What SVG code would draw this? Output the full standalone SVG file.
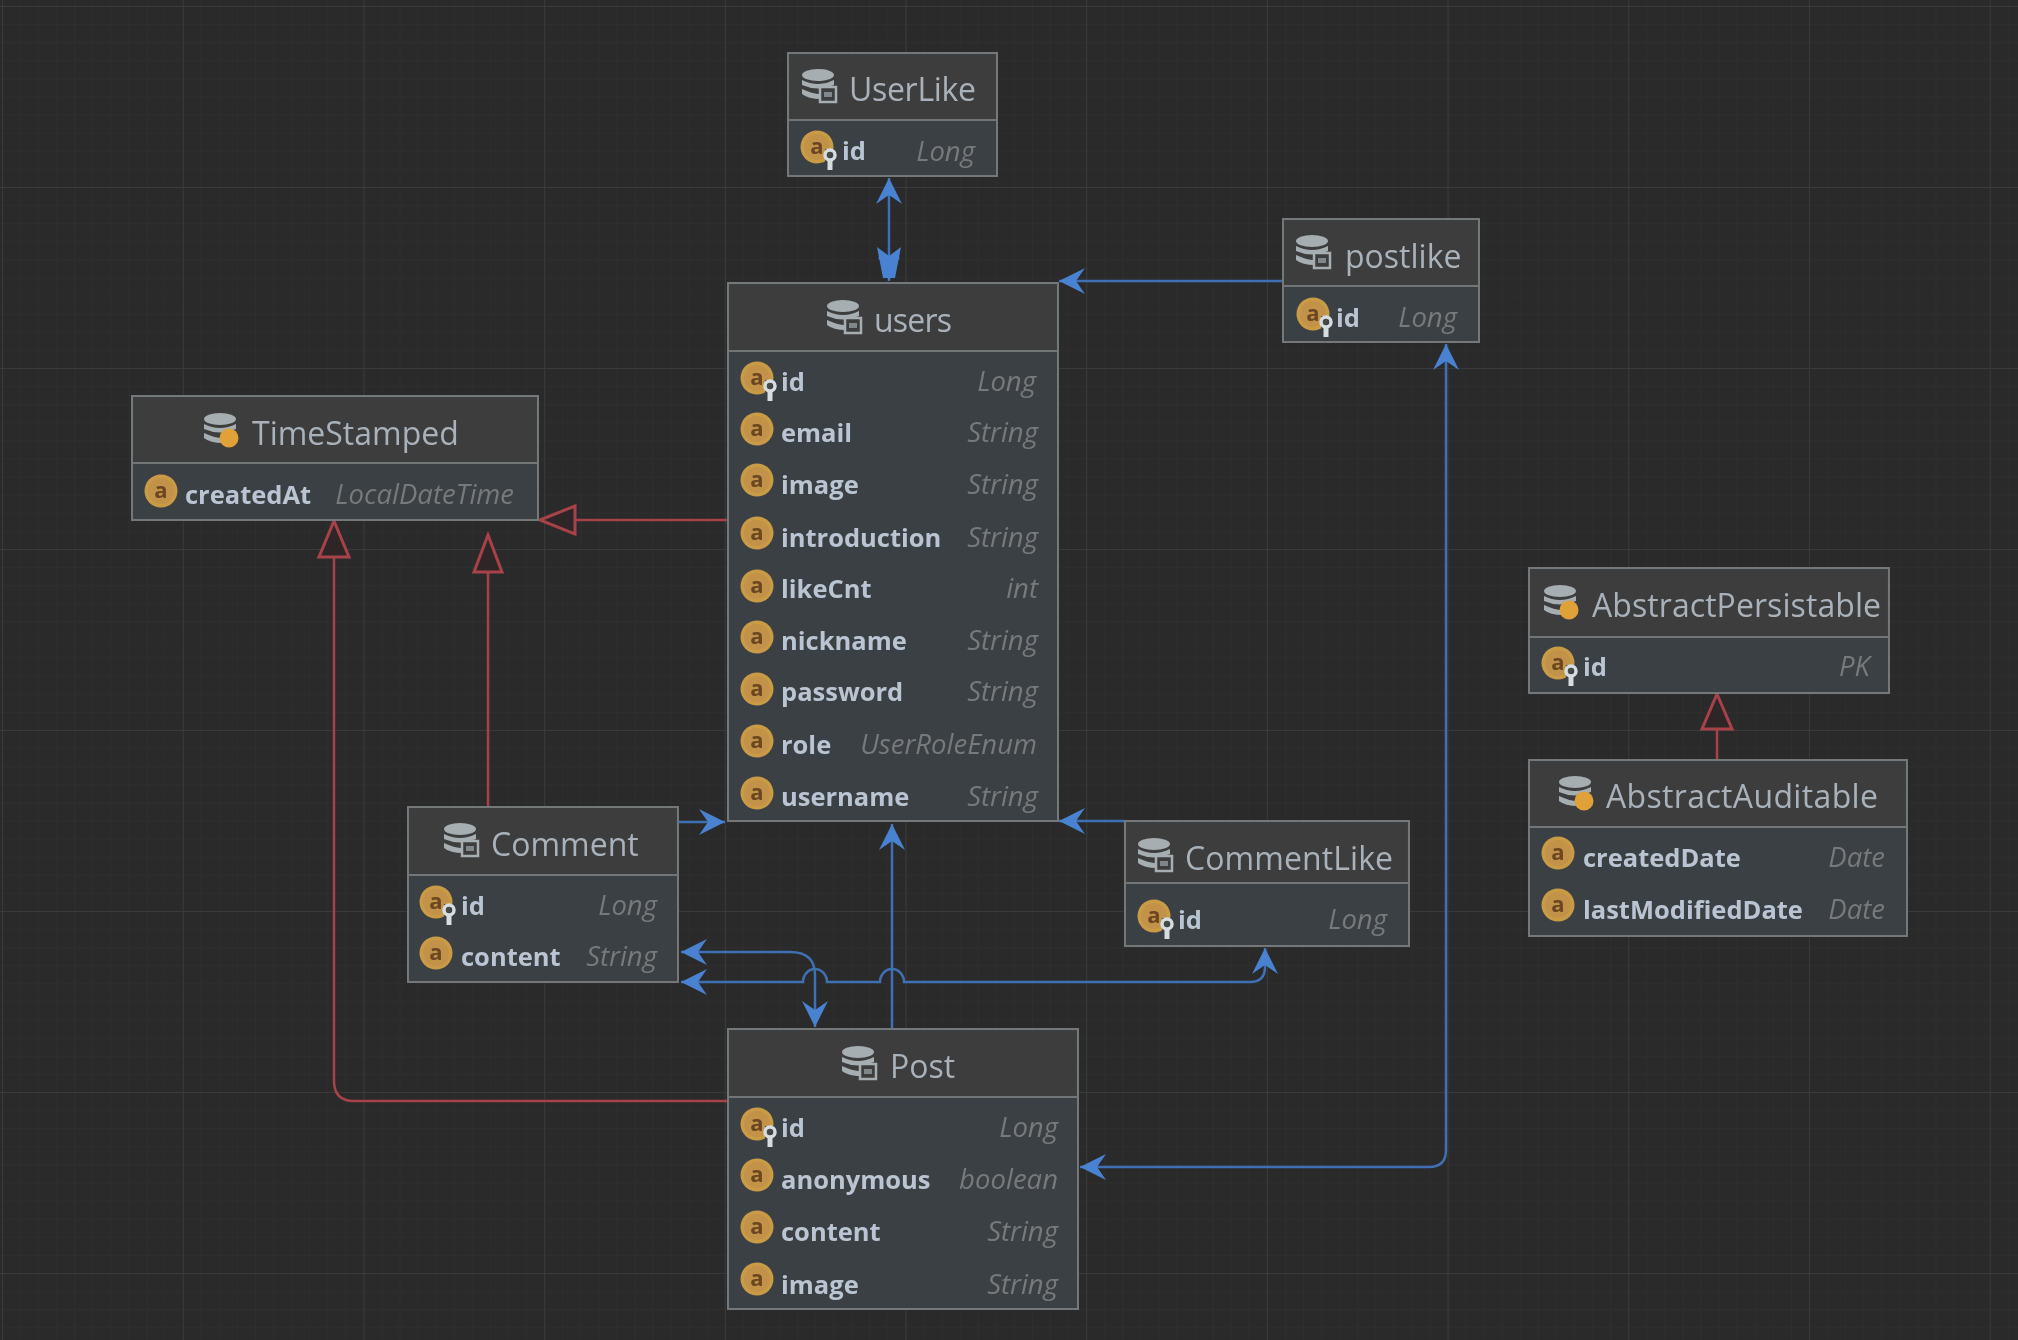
<svg xmlns="http://www.w3.org/2000/svg" xmlns:xlink="http://www.w3.org/1999/xlink" width="2018" height="1340" viewBox="0 0 2018 1340">
<style>
.box{fill:#3b4045;stroke:#757878;stroke-width:2}
.head{fill:#3d3d3d}
.sep{stroke:#727474;stroke-width:2;fill:none}
.title{font-family:"Open Sans","Noto Sans",sans-serif;font-size:32px;fill:#a9b2ba}
.field{font-family:"Open Sans","Noto Sans",sans-serif;font-weight:700;font-size:25.5px;fill:#b9c5d2}
.type{font-family:"Open Sans","Noto Sans",sans-serif;font-style:italic;font-size:27.5px;fill:#77797a;text-anchor:end}
.blue{fill:none;stroke:#3f70b4;stroke-width:2.5}
.red{fill:none;stroke:#a8424a;stroke-width:2.5}
.tri{fill:#2e2627;stroke:#a8424a;stroke-width:3}
.letter{font-family:"Open Sans",sans-serif;font-size:22px;font-weight:700;fill:#6b4620;text-anchor:middle}
</style>
<defs>
<pattern id="minor" patternUnits="userSpaceOnUse" x="2" y="6" width="18.07" height="18.1"><path d="M0 0H18.07M0 0V18.1" stroke="#2f2f2f" stroke-width="1.5" fill="none"/></pattern>
<pattern id="major" patternUnits="userSpaceOnUse" x="2" y="6" width="180.7" height="181"><path d="M0 0H180.7M0 0V181" stroke="#3a3a3a" stroke-width="2" fill="none"/></pattern>
<filter id="soft" filterUnits="userSpaceOnUse" x="0" y="0" width="2018" height="1340"><feGaussianBlur stdDeviation="0.7"/></filter>
<marker id="barb" markerUnits="userSpaceOnUse" viewBox="-28 -14 30 28" refX="0" refY="0" markerWidth="30" markerHeight="28" orient="auto-start-reverse"><path d="M0 0L-26 -13L-17 0L-26 13Z" fill="#4a82d0"/></marker>
<marker id="barb2" markerUnits="userSpaceOnUse" viewBox="-38 -14 40 28" refX="0" refY="0" markerWidth="40" markerHeight="28" orient="auto"><path d="M0 0L-24 -11L-18 0L-24 11Z M-3 -6L-34 -12L-25 0L-34 12L-3 6Z" fill="#4a82d0"/></marker>
<g id="db"><ellipse cx="0" cy="-11" rx="16" ry="6" fill="#a7aeb2"/><path d="M-16 -6Q0 2 16 -6V-1Q0 6 -16 -1Z M-16 3Q0 10 3 7V13Q-10 13 -16 8Z" fill="#a7aeb2"/></g>
<g id="db-table"><use href="#db"/><rect x="2" y="1" width="16" height="15" fill="#3e3e3e" stroke="#a7aeb2" stroke-width="2.5"/><rect x="6" y="6" width="8" height="5" fill="#808689"/></g>
<g id="db-abs"><use href="#db"/><circle cx="9" cy="8" r="9.5" fill="#e0a238"/></g>
<g id="attr"><circle r="16.5" fill="#c99b45"/><circle r="13" fill="#c2924a"/><text class="letter" y="7">a</text></g>
<g id="attr-key"><use href="#attr"/><path d="M8 2H20V24H8Z" fill="#3b4045" opacity="0.9"/><circle cx="13" cy="8" r="5" fill="none" stroke="#d5dde0" stroke-width="3.5"/><path d="M13 12V23" stroke="#d5dde0" stroke-width="5"/></g>
</defs>
<rect width="2018" height="1340" fill="#2a2a2a"/>
<rect width="2018" height="1340" fill="url(#minor)"/>
<rect width="2018" height="1340" fill="url(#major)"/>
<g filter="url(#soft)">
<g id="connectors">
<path class="blue" d="M889 178V281" marker-start="url(#barb)" marker-end="url(#barb2)"/>
<path class="blue" d="M1283 281H1059" marker-end="url(#barb)"/>
<path class="blue" d="M678 822H725" marker-end="url(#barb)"/>
<path class="blue" d="M1125 821H1059" marker-end="url(#barb)"/>
<path class="blue" d="M892 1029V824" marker-end="url(#barb)"/>
<path class="blue" d="M681 952H790Q815 952 815 975V1027" marker-start="url(#barb)" marker-end="url(#barb)"/>
<path class="blue" d="M681 982H803A12 13 0 0 1 827 982H880A12 13 0 0 1 904 982H1250Q1265 982 1265 967V948" marker-start="url(#barb)" marker-end="url(#barb)"/>
<path class="blue" d="M1446 344V1150Q1446 1167 1429 1167H1080" marker-start="url(#barb)" marker-end="url(#barb)"/>
<path class="red" d="M728 520H575"/><path class="tri" d="M540 520L575 506V534Z"/>
<path class="red" d="M728 1101H354Q334 1101 334 1081V557"/><path class="tri" d="M334 521L349 557H319Z"/>
<path class="red" d="M488 807V572"/><path class="tri" d="M488 535L502 572H474Z"/>
<path class="red" d="M1717 760V729"/><path class="tri" d="M1717 694L1732 729H1702Z"/>
</g>
<g id="node-UserLike"><rect class="box" x="788" y="53" width="209" height="123"/><rect class="head" x="790" y="55" width="205" height="65"/><path class="sep" d="M789 120H996"/><use href="#db-table" x="818" y="86"/><text class="title" x="849" y="101" textLength="127">UserLike</text><use href="#attr-key" x="817" y="147"/><text class="field" x="842" y="160">id</text><text class="type" x="975" y="161">Long</text></g>
<g id="node-users"><rect class="box" x="728" y="283" width="330" height="538"/><rect class="head" x="730" y="285" width="326" height="66"/><path class="sep" d="M729 351H1057"/><use href="#db-table" x="843" y="317"/><text class="title" x="874" y="332" textLength="78">users</text>
<use href="#attr-key" x="757" y="378"/><text class="field" x="781" y="391">id</text><text class="type" x="1036" y="391">Long</text>
<use href="#attr" x="757" y="429"/><text class="field" x="781" y="442">email</text><text class="type" x="1038" y="442">String</text>
<use href="#attr" x="757" y="480"/><text class="field" x="781" y="494">image</text><text class="type" x="1038" y="494">String</text>
<use href="#attr" x="757" y="533"/><text class="field" x="781" y="547">introduction</text><text class="type" x="1038" y="547">String</text>
<use href="#attr" x="757" y="586"/><text class="field" x="781" y="598">likeCnt</text><text class="type" x="1038" y="598">int</text>
<use href="#attr" x="757" y="637"/><text class="field" x="781" y="650">nickname</text><text class="type" x="1038" y="650">String</text>
<use href="#attr" x="757" y="689"/><text class="field" x="781" y="701">password</text><text class="type" x="1038" y="701">String</text>
<use href="#attr" x="757" y="741"/><text class="field" x="781" y="754">role</text><text class="type" x="1037" y="754">UserRoleEnum</text>
<use href="#attr" x="757" y="793"/><text class="field" x="781" y="806">username</text><text class="type" x="1038" y="806">String</text></g>
<g id="node-postlike"><rect class="box" x="1283" y="219" width="196" height="123"/><rect class="head" x="1285" y="221" width="192" height="65"/><path class="sep" d="M1284 286H1478"/><use href="#db-table" x="1312" y="252"/><text class="title" x="1345" y="268">postlike</text><use href="#attr-key" x="1313" y="314"/><text class="field" x="1336" y="327">id</text><text class="type" x="1457" y="327">Long</text></g>
<g id="node-TimeStamped"><rect class="box" x="132" y="396" width="406" height="124"/><rect class="head" x="134" y="398" width="402" height="65"/><path class="sep" d="M133 463H537"/><use href="#db-abs" x="220" y="430"/><text class="title" x="252" y="445">TimeStamped</text><use href="#attr" x="161" y="491"/><text class="field" x="185" y="504">createdAt</text><text class="type" x="514" y="504">LocalDateTime</text></g>
<g id="node-Comment"><rect class="box" x="408" y="807" width="270" height="175"/><rect class="head" x="410" y="809" width="266" height="66"/><path class="sep" d="M409 875H677"/><use href="#db-table" x="460" y="840"/><text class="title" x="491" y="856">Comment</text><use href="#attr-key" x="436" y="902"/><text class="field" x="461" y="915">id</text><text class="type" x="657" y="915">Long</text><use href="#attr" x="436" y="953"/><text class="field" x="461" y="966">content</text><text class="type" x="657" y="966">String</text></g>
<g id="node-Post"><rect class="box" x="728" y="1029" width="350" height="280"/><rect class="head" x="730" y="1031" width="346" height="66"/><path class="sep" d="M729 1097H1077"/><use href="#db-table" x="858" y="1063"/><text class="title" x="890" y="1078">Post</text>
<use href="#attr-key" x="757" y="1124"/><text class="field" x="781" y="1137">id</text><text class="type" x="1058" y="1137">Long</text>
<use href="#attr" x="757" y="1175"/><text class="field" x="781" y="1189">anonymous</text><text class="type" x="1058" y="1189">boolean</text>
<use href="#attr" x="757" y="1227"/><text class="field" x="781" y="1241">content</text><text class="type" x="1058" y="1241">String</text>
<use href="#attr" x="757" y="1279"/><text class="field" x="781" y="1294">image</text><text class="type" x="1058" y="1294">String</text></g>
<g id="node-CommentLike"><rect class="box" x="1125" y="821" width="284" height="125"/><rect class="head" x="1127" y="823" width="280" height="60"/><path class="sep" d="M1126 883H1408"/><use href="#db-table" x="1154" y="855"/><text class="title" x="1185" y="870" textLength="208">CommentLike</text><use href="#attr-key" x="1154" y="916"/><text class="field" x="1178" y="929">id</text><text class="type" x="1387" y="929">Long</text></g>
<g id="node-AbstractPersistable"><rect class="box" x="1529" y="568" width="360" height="125"/><rect class="head" x="1531" y="570" width="356" height="67"/><path class="sep" d="M1530 637H1888"/><use href="#db-abs" x="1560" y="602"/><text class="title" x="1592" y="617" textLength="289">AbstractPersistable</text><use href="#attr-key" x="1558" y="663"/><text class="field" x="1583" y="676">id</text><text class="type" x="1870" y="676">PK</text></g>
<g id="node-AbstractAuditable"><rect class="box" x="1529" y="760" width="378" height="176"/><rect class="head" x="1531" y="762" width="374" height="65"/><path class="sep" d="M1530 827H1906"/><use href="#db-abs" x="1575" y="793"/><text class="title" x="1606" y="808" textLength="272">AbstractAuditable</text><use href="#attr" x="1558" y="853"/><text class="field" x="1583" y="867">createdDate</text><text class="type" x="1885" y="867">Date</text><use href="#attr" x="1558" y="905"/><text class="field" x="1583" y="919">lastModifiedDate</text><text class="type" x="1885" y="919">Date</text></g>
</g>
</svg>
